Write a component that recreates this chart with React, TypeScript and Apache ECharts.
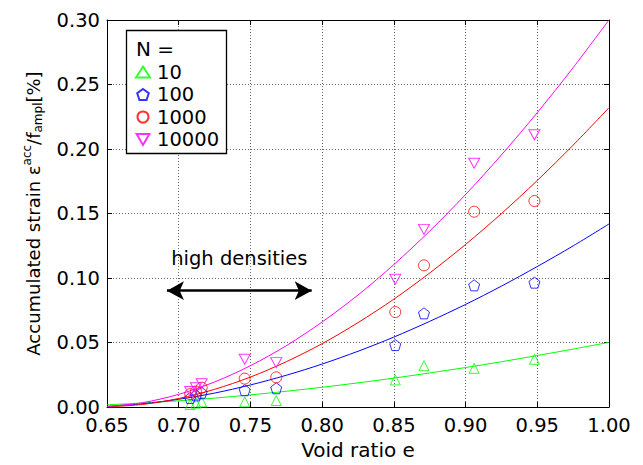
import React, { useEffect, useRef } from 'react';
import * as echarts from 'echarts';

// Fitted curves (at regular void ratios)
const curveE = [0.65, 0.675, 0.7, 0.725, 0.75, 0.775, 0.8, 0.825, 0.85, 0.875, 0.9, 0.925, 0.95, 0.975, 1.0];
const fit10 = [0.0017, 0.0031, 0.0048, 0.0069, 0.0094, 0.0122, 0.0153, 0.0187, 0.0224, 0.0264, 0.0306, 0.0351, 0.0399, 0.0449, 0.0501];
const fit100 = [0.0005, 0.0025, 0.006, 0.0108, 0.0171, 0.0246, 0.0333, 0.0432, 0.0542, 0.0664, 0.0795, 0.0937, 0.1089, 0.1249, 0.1419];
const fit1000 = [0.0001, 0.002, 0.0066, 0.0137, 0.0232, 0.0351, 0.0491, 0.0654, 0.0836, 0.1039, 0.126, 0.1499, 0.1756, 0.203, 0.232];
const fit10000 = [0.0003, 0.0034, 0.0098, 0.0194, 0.032, 0.0475, 0.0659, 0.0868, 0.1104, 0.1364, 0.1647, 0.1954, 0.2282, 0.2631, 0.3];

// Measured points
const pointE = [0.708, 0.712, 0.716, 0.746, 0.768, 0.851, 0.871, 0.906, 0.948];
const pts10 = [0.002, 0.003, 0.004, 0.004, 0.005, 0.021, 0.032, 0.03, 0.037];
const pts100 = [0.007, 0.009, 0.011, 0.013, 0.0145, 0.048, 0.0726, 0.0943, 0.0964];
const pts1000 = [0.01, 0.012, 0.015, 0.022, 0.023, 0.0736, 0.1098, 0.1514, 0.1597];
const pts10000 = [0.012, 0.015, 0.018, 0.037, 0.0344, 0.099, 0.1377, 0.189, 0.211];

const seriesNames = ['10', '100', '1000', '10000'];
const colors = ['#00ff00', '#0000ff', '#ff0000', '#ff00ff'];

// Annotation
const arrowStart = [0.6918, 0.0902];
const arrowEnd = [0.7927, 0.0902];
const arrowText = 'high densities';

const FONT = 'DejaVu Sans';

const pair = (xs: number[], ys: number[]) => xs.map((x, i) => [x, ys[i]]);

const PENTAGON = 'path://M0,-10 L9.511,-3.09 L5.878,8.09 L-5.878,8.09 L-9.511,-3.09 Z';
const DOWN_TRIANGLE = 'path://M-10,-8.66 L10,-8.66 L0,8.66 Z';

export default function App() {
  const ref = useRef<HTMLDivElement>(null);
  useEffect(() => {
    if (!ref.current) return;
    const chart = echarts.init(ref.current, null, { renderer: 'svg' });
    const fits = [fit10, fit100, fit1000, fit10000];
    const pts = [pts10, pts100, pts1000, pts10000];
    const symbols: any[] = ['triangle', PENTAGON, 'circle', DOWN_TRIANGLE];
    const sizes: any[] = [10, 11, 11, [11, 10]];

    const lineSeries = fits.map((f, i) => ({
      type: 'line',
      name: 'fit' + seriesNames[i],
      data: pair(curveE, f),
      showSymbol: false,
      smooth: 0.3,
      silent: true,
      lineStyle: { color: colors[i], width: 1 },
      itemStyle: { color: colors[i] },
      z: 2,
    }));

    const scatterSeries = pts.map((p, i) => {
      const s: any = {
        type: 'scatter',
        name: seriesNames[i],
        data: pair(pointE, p),
        symbol: symbols[i],
        symbolSize: sizes[i],
        itemStyle: { color: 'rgba(0,0,0,0)', borderColor: colors[i], borderWidth: 1 },
        z: 3,
      };
      if (i === 0) {
        s.markLine = {
          silent: true,
          symbol: ['arrow', 'arrow'],
          symbolSize: [14, 17],
          lineStyle: { color: '#000', width: 2.5, type: 'solid' },
          label: {
            show: true,
            position: 'insideMiddleTop',
            distance: 22,
            formatter: arrowText,
            color: '#000',
            fontSize: 19.5,
            fontFamily: FONT,
          },
          emphasis: { disabled: true },
          data: [[{ coord: arrowStart }, { coord: arrowEnd }]],
        };
      }
      return s;
    });

    const axisCommon = {
      type: 'value',
      axisLine: { show: true, onZero: false, lineStyle: { color: '#000', width: 1 } },
      axisTick: { show: true, inside: true, length: 5, lineStyle: { color: '#000' } },
    };

    chart.setOption({
      animation: false,
      backgroundColor: '#fff',
      grid: { left: 107, right: 34, top: 20, bottom: 58 },
      xAxis: [
        {
          ...axisCommon,
          min: 0.65,
          max: 1.0,
          interval: 0.05,
          name: 'Void ratio e',
          nameLocation: 'middle',
          nameGap: 33,
          nameTextStyle: { fontFamily: FONT, fontSize: 20, color: '#000' },
          axisLabel: {
            formatter: (v: number) => v.toFixed(2),
            fontFamily: FONT,
            fontSize: 19.5,
            color: '#000',
            margin: 8,
          },
          splitLine: { show: true, lineStyle: { color: '#666', type: [1, 2], width: 1 } },
        },
        {
          ...axisCommon,
          position: 'top',
          min: 0.65,
          max: 1.0,
          interval: 0.05,
          axisLabel: { show: false },
          splitLine: { show: false },
        },
      ],
      yAxis: [
        {
          ...axisCommon,
          min: 0,
          max: 0.3,
          interval: 0.05,
          name: 'Accumulated strain ε{sup|acc}/f{sub|ampl}[%]',
          nameLocation: 'middle',
          nameGap: 62,
          nameTextStyle: {
            fontFamily: FONT,
            fontSize: 18,
            color: '#000',
            rich: {
              sup: { fontFamily: FONT, fontSize: 12, color: '#000', padding: [0, 0, 12, 0] },
              sub: { fontFamily: FONT, fontSize: 12, color: '#000', padding: [9, 0, 0, 0] },
            },
          },
          axisLabel: {
            formatter: (v: number) => v.toFixed(2),
            fontFamily: FONT,
            fontSize: 19.5,
            color: '#000',
            margin: 7,
          },
          splitLine: { show: true, lineStyle: { color: '#666', type: [1, 2], width: 1 } },
        },
        {
          ...axisCommon,
          position: 'right',
          min: 0,
          max: 0.3,
          interval: 0.05,
          axisLabel: { show: false },
          splitLine: { show: false },
        },
      ],
      legend: {
        data: seriesNames,
        orient: 'vertical',
        left: 135,
        top: 62,
        padding: 0,
        itemWidth: 14,
        itemHeight: 11,
        itemGap: 2.5,
        textStyle: { fontFamily: FONT, fontSize: 19.5, color: '#000', lineHeight: 20, padding: [0, 0, 0, 2] },
        selectedMode: false,
        z: 6,
      },
      graphic: [
        {
          type: 'rect',
          z: 5,
          shape: { x: 126.5, y: 30.5, width: 100, height: 123 },
          style: { fill: '#fff', stroke: '#000', lineWidth: 1.3 },
        },
        {
          type: 'text',
          z: 6,
          left: 136,
          top: 39,
          style: { text: 'N =', fontFamily: FONT, fontSize: 20, fill: '#000' },
        },
      ],
      series: [...lineSeries, ...scatterSeries],
    });
    return () => chart.dispose();
  }, []);
  return (
    <div
      ref={ref}
      style={{ position: 'fixed', left: 0, top: 0, width: 643, height: 465, background: '#fff' }}
    />
  );
}
